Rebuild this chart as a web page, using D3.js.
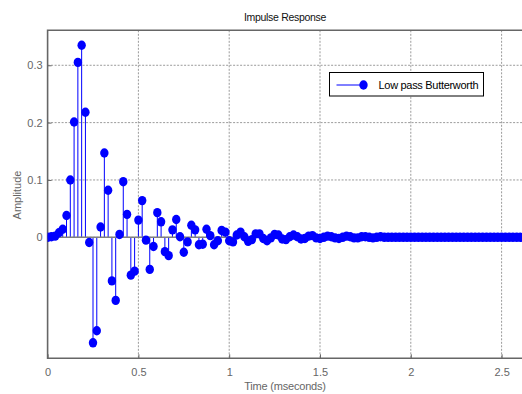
<!DOCTYPE html>
<html>
<head>
<meta charset="utf-8">
<script src="https://cdn.jsdelivr.net/npm/d3@7"></script>
<style>
  body { margin: 0; background: #fff; }
  text { font-family: "Liberation Sans", Arial, sans-serif; }
</style>
</head>
<body>
<div id="chart"></div>
<script>
// sample rate in kHz, so index / rate gives time in ms
const sampleRate = 48;

// impulse response samples
const amplitude = [
  0, 0.001, 0.002, 0.008, 0.014, 0.038, 0.100, 0.201, 0.305, 0.335,
  0.218, -0.009, -0.184, -0.163, 0.018, 0.147, 0.082, -0.076, -0.110, 0.005,
  0.097, 0.040, -0.066, -0.059, 0.030, 0.064, -0.005, -0.056, -0.016, 0.043,
  0.027, -0.025, -0.032, 0.013, 0.031, 0.001, -0.026, -0.008, 0.021, 0.013,
  -0.013, -0.012, 0.014, 0.003, -0.013, -0.006, 0.012, 0.009, -0.006, -0.008,
  0.004, 0.009, 0.001, -0.007, -0.004, 0.006, 0.006, -0.002, -0.006, -0.001,
  0.005, 0.004, -0.003, -0.004, 0.001, 0.004, 0.001, -0.003, -0.002, 0.002,
  0.003, -0.001, -0.002, 0.000, 0.002, 0.001, -0.001, -0.002, 0.000, 0.002,
  0.001, -0.001, -0.001, 0.001, 0.001, 0.000, -0.001, 0.000, 0.001, 0.000,
  0, 0, 0, 0, 0, 0, 0, 0, 0, 0,
  0, 0, 0, 0, 0, 0, 0, 0, 0, 0,
  0, 0, 0, 0, 0, 0, 0, 0, 0, 0,
  0, 0, 0, 0, 0, 0, 0, 0
];

const xTicks = [0, 0.5, 1, 1.5, 2, 2.5];
const yTicks = [0, 0.1, 0.2, 0.3];
const xLimits = [0, 2.62];
const yLimits = [-0.211, 0.361];
const seriesName = "Low pass Butterworth";

const width = 522, height = 394;
const plot = { left: 47.6, top: 30.3, bottom: 358.3, right: 523.4 };

const svg = d3.select("#chart").append("svg")
  .attr("width", width)
  .attr("height", height);

const x = d3.scaleLinear().domain(xLimits).range([plot.left, plot.right]);
const y = d3.scaleLinear().domain(yLimits).range([plot.bottom, plot.top]);

const data = amplitude.map((v, i) => ({ t: i / sampleRate, v: v }));

svg.append("defs").append("clipPath").attr("id", "clip")
  .append("rect")
  .attr("x", plot.left).attr("y", plot.top - 6)
  .attr("width", plot.right - plot.left).attr("height", plot.bottom - plot.top + 6);

// grid lines
const grid = svg.append("g")
  .attr("stroke", "#9a9a9a")
  .attr("stroke-width", 1)
  .attr("stroke-dasharray", "2,1.5");
grid.selectAll(".gx").data(xTicks.filter(d => d > 0)).join("line")
  .attr("x1", d => x(d)).attr("x2", d => x(d))
  .attr("y1", plot.top).attr("y2", plot.bottom);
grid.selectAll(".gy").data(yTicks).join("line")
  .attr("x1", plot.left).attr("x2", width)
  .attr("y1", d => y(d)).attr("y2", d => y(d));

// axes (tick marks inside, like MATLAB)
const xAxis = svg.append("g")
  .attr("transform", `translate(0,${plot.bottom})`)
  .call(d3.axisBottom(x).tickValues(xTicks).tickSize(-4).tickPadding(10).tickFormat(d3.format("")));
const yAxis = svg.append("g")
  .attr("transform", `translate(${plot.left},0)`)
  .call(d3.axisLeft(y).tickValues(yTicks).tickSize(-4).tickPadding(5).tickFormat(d3.format("")));
[xAxis, yAxis].forEach(a => {
  a.select(".domain").remove();
  a.selectAll(".tick line").attr("stroke", "#666");
  a.selectAll(".tick text").attr("fill", "#666").style("font-size", "11px");
});

// box
svg.append("path")
  .attr("d", `M${width + 2},${plot.top}H${plot.left}V${plot.bottom}H${width + 2}`)
  .attr("fill", "none")
  .attr("stroke", "#666")
  .attr("stroke-width", 1.6);

// stems
const g = svg.append("g").attr("clip-path", "url(#clip)");
g.selectAll(".stem").data(data).join("line")
  .attr("x1", d => x(d.t)).attr("x2", d => x(d.t))
  .attr("y1", y(0)).attr("y2", d => y(d.v))
  .attr("stroke", "#0000ff")
  .attr("stroke-width", 1);

// baseline
g.append("line")
  .attr("x1", plot.left).attr("x2", plot.right)
  .attr("y1", y(0)).attr("y2", y(0))
  .attr("stroke", "#808080")
  .attr("stroke-width", 1.5);

// markers
g.selectAll(".dot").data(data).join("ellipse")
  .attr("cx", d => x(d.t))
  .attr("cy", d => y(d.v))
  .attr("rx", 4.2).attr("ry", 4.7)
  .attr("fill", "#0000ff");

// titles
svg.append("text")
  .attr("x", 285).attr("y", 21)
  .attr("text-anchor", "middle")
  .style("font-size", "10.5px")
  .style("letter-spacing", "-0.3px")
  .attr("fill", "#111")
  .text("Impulse Response");
svg.append("text")
  .attr("x", 285).attr("y", 390)
  .attr("text-anchor", "middle")
  .style("font-size", "11px")
  .style("letter-spacing", "-0.2px")
  .attr("fill", "#666")
  .text("Time (mseconds)");
svg.append("text")
  .attr("transform", "translate(21,195) rotate(-90)")
  .attr("text-anchor", "middle")
  .style("font-size", "11px")
  .attr("fill", "#666")
  .text("Amplitude");

// legend
const lg = svg.append("g");
lg.append("rect")
  .attr("x", 329.5).attr("y", 72.5)
  .attr("width", 154).attr("height", 23.5)
  .attr("fill", "#fff").attr("stroke", "#000").attr("stroke-width", 1);
lg.append("line")
  .attr("x1", 336.5).attr("x2", 363.5).attr("y1", 85).attr("y2", 85)
  .attr("stroke", "#0000ff").attr("stroke-width", 1);
lg.append("ellipse")
  .attr("cx", 363.5).attr("cy", 85).attr("rx", 4.2).attr("ry", 4.7)
  .attr("fill", "#0000ff");
lg.append("text")
  .attr("x", 378.5).attr("y", 89)
  .style("font-size", "11px")
  .style("letter-spacing", "-0.3px")
  .attr("fill", "#000")
  .text(seriesName);
</script>
</body>
</html>
